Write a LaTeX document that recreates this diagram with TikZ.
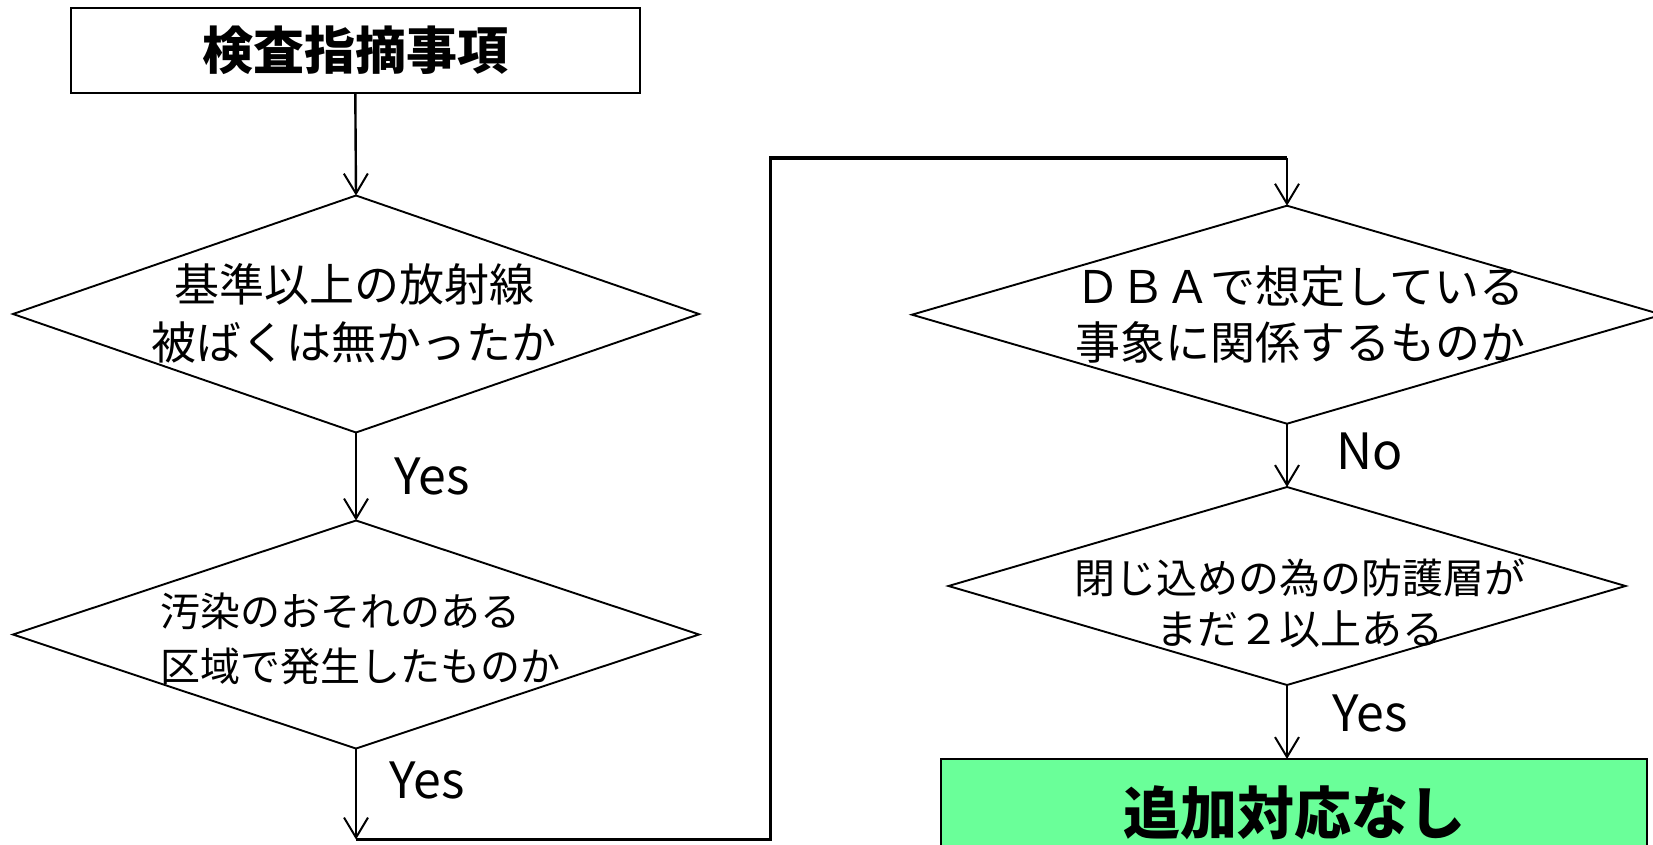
\documentclass[tikz,border=0pt]{standalone}
\usepackage{fontspec}
\setmainfont{Noto Sans CJK JP}
\usetikzlibrary{shapes.geometric,arrows.meta}
\definecolor{okgreen}{RGB}{106,255,153}
\begin{document}
\begin{tikzpicture}[x=0.5pt,y=-0.5pt,
  box/.style={draw,line width=1.1pt,inner sep=0,outer sep=0},
  dia/.style={draw,diamond,line width=0.95pt,inner sep=0,outer sep=0},
  arr/.style={draw,line width=1.2pt,-{Straight Barb[length=10pt,width=12pt,line width=1pt]}},
  loopline/.style={draw,line width=1.8pt},
  txt/.style={inner sep=0,outer sep=0},
  yn/.style={inner sep=0,font=\fontsize{25}{30}\selectfont}]
\clip (0,0) rectangle (1653,845);
\fill[white] (0,0) rectangle (1653,845);
% nodes
\node[box,minimum width=284.5pt,minimum height=42.2pt,font=\bfseries\fontsize{25.5}{30}\selectfont] (start) at (355.3,50.6) {検査指摘事項};
\node[dia,minimum width=343pt,minimum height=118.5pt] (d1) at (356,314) {};
\node[txt,align=center,font=\fontsize{22.5}{29}\selectfont] (t1) at (354,313.6) {基準以上の放射線\\被ばくは無かったか};
\node[dia,minimum width=343pt,minimum height=114pt] (d2) at (356,634.5) {};
\node[txt,align=left,anchor=west,font=\fontsize{20}{27.5}\selectfont] (t2) at (160,638.8) {汚染のおそれのある\\区域で発生したものか};
\node[dia,minimum width=375pt,minimum height=109pt] (d3) at (1287,314.7) {};
\node[txt,align=center,font=\fontsize{22.5}{28}\selectfont] (t3) at (1300,314.6) {ＤＢＡで想定している\\事象に関係するものか};
\node[dia,minimum width=338.5pt,minimum height=99pt] (d4) at (1287,586) {};
\node[txt,align=center,font=\fontsize{20.5}{25.8}\selectfont] (t4) at (1300,603.4) {閉じ込めの為の防護層が\\まだ２以上ある};
\node[box,fill=okgreen,minimum width=353pt,minimum height=53.5pt,font=\bfseries\fontsize{28.5}{34}\selectfont] (done) at (1294,812.5) {追加対応なし};
% labels
\node[yn] (y1) at (432,476) {Yes};
\node[yn] (y2) at (427,780) {Yes};
\node[yn] (n3) at (1370,451) {No};
\node[yn] (y4) at (1370,713.7) {Yes};
% loop coordinates
\coordinate (c1) at (356,839.5);
\coordinate (c2) at (770.6,839.5);
\coordinate (c3) at (770.6,158);
\coordinate (c4) at (1287,158);
% connectors
\draw[arr] (start.south) -- (d1.north);
\draw[arr] (d1.south) -- (d2.north);
\draw[arr] (d2.south) -- (c1);
\draw[loopline] (c1) -- (c2) -- (c3) -- (c4);
\draw[arr] (c4) -- (d3.north);
\draw[arr] (d3.south) -- (d4.north);
\draw[arr] (d4.south) -- (d4.south |- done.north);
\end{tikzpicture}
\end{document}
